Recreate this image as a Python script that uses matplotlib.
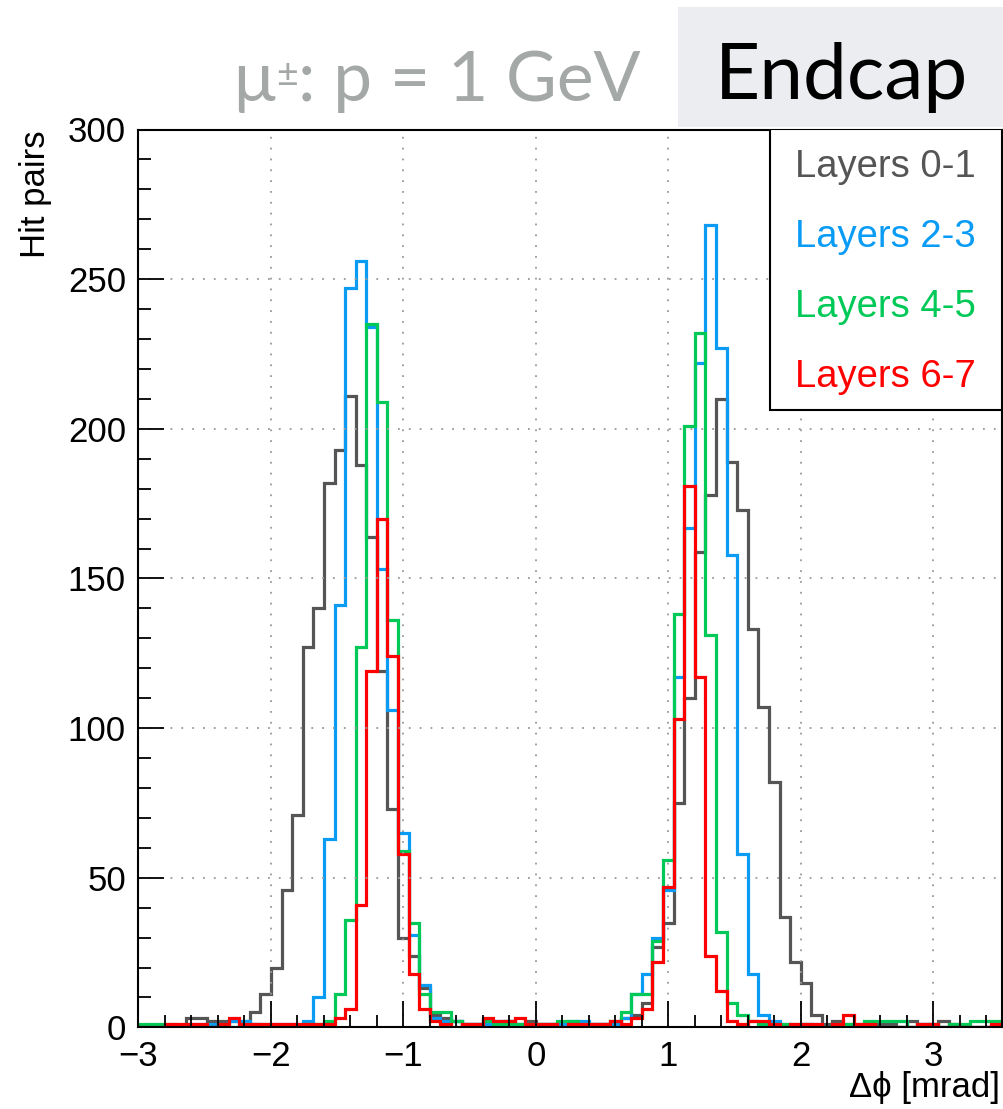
import numpy as np
import matplotlib
matplotlib.use("Agg")
import matplotlib.pyplot as plt
from matplotlib.ticker import MultipleLocator
from matplotlib.patches import Rectangle

plt.rcParams['font.family'] = ['Liberation Sans', 'DejaVu Sans']

# histogram binning: 0.08 mrad bins starting at -3.04
bin_lo = -3.04
bin_w = 0.08

labels = ["Layers 0-1", "Layers 2-3", "Layers 4-5", "Layers 6-7"]
colors = ["#555555", "#0a9cf5", "#00c957", "#ff0000"]

layers01 = [0, 0, 0, 0, 0, 3, 3, 2, 2, 2,
            2, 5, 11, 20, 46, 71, 127, 140, 182, 193,
            211, 188, 164, 119, 73, 30, 24, 13, 4, 3,
            2, 1, 1, 2, 1, 2, 1, 2, 1, 1,
            1, 1, 1, 1, 1, 1, 3, 4, 8, 27,
            35, 75, 110, 159, 178, 210, 189, 173, 133, 107,
            82, 37, 22, 15, 4, 1, 2, 1, 0, 1,
            1, 1, 0, 2, 1, 0, 2, 1, 0, 0,
            0, 0]
layers23 = [0, 0, 0, 0, 0, 1, 1, 1, 1, 2,
            2, 1, 1, 1, 1, 1, 2, 10, 63, 141,
            247, 256, 234, 153, 106, 65, 31, 14, 3, 2,
            2, 1, 1, 1, 2, 2, 1, 1, 1, 1,
            1, 2, 2, 1, 1, 1, 3, 11, 18, 30,
            46, 117, 167, 222, 268, 227, 158, 58, 18, 4,
            2, 1, 0, 1, 1, 0, 0, 0, 0, 0,
            0, 0, 0, 0, 1, 1, 0, 0, 0, 0,
            0, 0]
layers45 = [1, 1, 1, 1, 0, 0, 0, 0, 0, 0,
            1, 1, 0, 0, 0, 0, 1, 1, 2, 11,
            36, 127, 235, 209, 136, 59, 35, 11, 5, 5,
            2, 1, 1, 2, 1, 1, 1, 1, 1, 1,
            2, 2, 1, 1, 1, 2, 5, 11, 11, 29,
            56, 138, 201, 232, 131, 32, 8, 4, 2, 1,
            1, 1, 1, 1, 0, 0, 1, 1, 1, 2,
            2, 2, 2, 0, 0, 1, 0, 1, 1, 2,
            2, 2]
layers67 = [0, 0, 0, 1, 1, 1, 1, 0, 1, 3,
            1, 1, 1, 1, 1, 1, 1, 1, 1, 3,
            6, 41, 119, 170, 124, 58, 18, 6, 2, 1,
            0, 1, 1, 3, 2, 2, 3, 1, 1, 1,
            0, 1, 1, 1, 1, 2, 1, 3, 6, 22,
            47, 103, 181, 117, 24, 12, 2, 1, 2, 2,
            1, 0, 1, 1, 1, 0, 1, 4, 1, 1,
            0, 0, 0, 0, 1, 1, 0, 0, 0, 0,
            0, 1]
series = [layers01, layers23, layers45, layers67]

edges = bin_lo + bin_w * np.arange(len(layers01) + 1)

W, H = 1004, 1109
fig = plt.figure(figsize=(W / 100, H / 100), dpi=100)
ax = fig.add_axes([138.5 / W, 1 - 1027.4 / H, (1002 - 138.5) / W, (1027.4 - 129.5) / H])

for vals, c in zip(series, colors):
    ax.stairs(vals, edges, color=c, lw=2.3, baseline=0)

ax.set_xlim(-3.0, 3.52)
ax.set_ylim(0, 300)
ax.xaxis.set_major_locator(MultipleLocator(1))
ax.xaxis.set_minor_locator(MultipleLocator(0.2))
ax.yaxis.set_major_locator(MultipleLocator(50))
ax.yaxis.set_minor_locator(MultipleLocator(10))
ax.tick_params(which='both', direction='in', top=False, right=False,
               labelsize=25, width=1.3, color='black')
ax.tick_params(which='major', length=19, pad=9)
ax.tick_params(which='minor', length=9)
ax.grid(which='major', color='#999999', linestyle=(0, (1, 5)), linewidth=1.3)
for s in ax.spines.values():
    s.set_linewidth(1.5)

# legend drawn as a plain box with coloured text
ax.add_patch(Rectangle((0.7313, 0.6876), 0.2687, 0.3124, transform=ax.transAxes,
                       facecolor='white', edgecolor='black', lw=1.5, zorder=5))
for k, (lab, c) in enumerate(zip(labels, colors)):
    ax.text(0.7603, 0.9582 - k * 0.078, lab, color=c, fontsize=27.5,
            transform=ax.transAxes, va='center', ha='left', zorder=6)

fig.text(36 / W, 1 - 130 / H, "Hit pairs", rotation=90, fontsize=25,
         ha='center', va='top')
fig.text(1000 / W, 1 - 1088 / H, "\u0394\u03d5 [mrad]", fontsize=25,
         ha='right', va='center')

# header
title_gray = '#a4a8a6'
fig.add_artist(Rectangle((678 / W, 1 - 127 / H), (W - 678) / W, 120 / H,
                         transform=fig.transFigure, facecolor='#ebedf0',
                         edgecolor='none'))
fig.text(842 / W, 1 - 99 / H, "Endcap", fontsize=56.5, family='Lato',
         ha='center', va='baseline', color='black')
t1 = fig.text(233 / W, 1 - 113 / H, "\u03bc", fontsize=50, family='Lato',
              color=title_gray, va='bottom')
t2 = ax.annotate("\u00b1", xy=(1, 1), xycoords=t1, xytext=(1, -6),
                 textcoords='offset points', fontsize=27, family='Lato',
                 color=title_gray, va='top', annotation_clip=False)
ax.annotate(": p = 1 GeV", xy=(1, 0), xycoords=(t2, t1), xytext=(0, 0),
            textcoords='offset points', fontsize=50, family='Lato',
            color=title_gray, va='bottom', annotation_clip=False)

fig.savefig("out.png", dpi=100)
